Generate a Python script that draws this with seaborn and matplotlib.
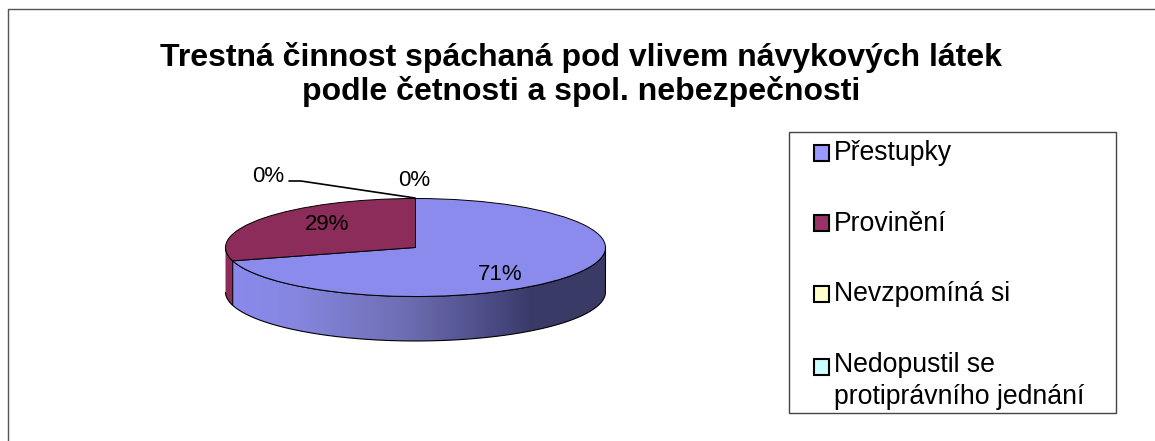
import numpy as np
import matplotlib
matplotlib.use('Agg')
import matplotlib.pyplot as plt
import seaborn as sns
from matplotlib.colors import LinearSegmentedColormap
from matplotlib.lines import Line2D
from matplotlib.patches import Patch, PathPatch, Rectangle
from matplotlib.path import Path

title = 'Trestná činnost spáchaná pod vlivem návykových látek\npodle četnosti a spol. nebezpečnosti'
categories = ['Přestupky', 'Provinění', 'Nevzpomíná si', 'Nedopustil se\nprotiprávního jednání']
values = [70.6, 29.4, 0, 0]
pct_labels = ['71%', '29%', '0%', '0%']

sns.set_theme(style='white')
plt.rcParams['font.family'] = ['Liberation Sans', 'DejaVu Sans']

W, H = 1155, 441
# ellipse of the pie top in image pixels
cx, cy, rx, ry, depth = 415.5, 247.5, 190, 49, 44.5

top_colors = sns.color_palette(['#8b8bed', '#8b2c5a', '#ffffcc', '#ccffff'])
legend_colors = sns.color_palette(['#9999ff', '#993366', '#ffffcc', '#ccffff'])

fig = plt.figure(figsize=(W / 100, H / 100), dpi=100, facecolor='white')


def fx(x):
    return x / W


def fy(y):
    return 1 - y / H


# frame around the chart, only top and left are visible
fig.add_artist(Line2D([fx(8), fx(8), fx(W)], [fy(H), fy(8.5), fy(8.5)], color='#555555', lw=1))

fig.text(fx(581), fy(74.5), title, ha='center', va='center', fontsize=23, fontweight='bold',
         color='black', linespacing=1.15)

# axes is placed so the unit circle of the pie lands on the ellipse
ax = fig.add_axes([fx(cx - rx * 1.2), fy(cy + ry * 2.2), rx * 2.4 / W, ry * 3.4 / H])

# side wall, drawn below the top from the same slice angles
boundary = np.radians(90 - 360 * values[0] / sum(values))
d = depth / ry


def wall(a0, a1):
    t = np.linspace(a0, a1, 120)
    xs = np.r_[np.cos(t), np.cos(t[::-1])]
    ys = np.r_[np.sin(t), np.sin(t[::-1]) - d]
    return Path(np.column_stack([xs, ys]))


grad = LinearSegmentedColormap.from_list('wall', [
    (0.0, '#8a8af0'), (0.18, '#8686e0'), (0.46, '#6f6fb5'),
    (0.72, '#474880'), (0.80, '#3b3b68'), (1.0, '#3a3a66')])
img = ax.imshow(np.linspace(0, 1, 256).reshape(1, -1), extent=(-1, 1, -2, 0), aspect='auto',
                cmap=grad, zorder=1)
blue_wall = PathPatch(wall(boundary, 0), fc='none', ec='black', lw=0.8, zorder=2)
ax.add_patch(blue_wall)
img.set_clip_path(blue_wall)
ax.add_patch(PathPatch(wall(np.pi, boundary + 2 * np.pi), fc=top_colors[1], ec='black', lw=0.8, zorder=2))

wedges, _ = ax.pie(values, colors=top_colors, startangle=90, counterclock=False, radius=1,
                   wedgeprops={'edgecolor': 'black', 'linewidth': 0.7})
for w in wedges:
    w.set_zorder(3)

ax.set_aspect('auto')
ax.set_xlim(-1.2, 1.2)
ax.set_ylim(-2.2, 1.2)
ax.axis('off')

# percent labels
label_pos = [(500, 275), (327, 225), (268, 177), (414, 181)]
for lab, (x, y) in zip(pct_labels, label_pos):
    fig.text(fx(x), fy(y), lab, ha='center', va='center', fontsize=16, color='black', zorder=5)

# leader line of the hidden slice
fig.add_artist(Line2D([fx(289), fx(301), fx(415)], [fy(181), fy(181), fy(198)], color='black', lw=1.2))

# legend
fig.add_artist(Rectangle((fx(789), fy(413)), 327 / W, 281 / H, transform=fig.transFigure,
                         fc='white', ec='#444444', lw=1))
handles = [Patch(fc=c, ec='black', lw=1.5) for c in legend_colors]
leg = fig.legend(handles, categories, loc='upper left', bbox_to_anchor=(fx(804), fy(130)),
                 bbox_transform=fig.transFigure, frameon=False, fontsize=19.2, ncol=1,
                 handlelength=0.55, handleheight=0.55, handletextpad=0.2,
                 labelspacing=1.67, borderpad=0.38, borderaxespad=0, labelcolor='black')
for t in leg.get_texts():
    t.set_linespacing(1.32)
# markers sit a bit under the text centre, the last one on the first line of its label
for h in leg.legend_handles:
    h.set_y(h.get_y() - 1.4)
last = leg.legend_handles[-1]
last.set_y(last.get_y() + 11.9)

fig.savefig('out.png', dpi=100, facecolor='white')
